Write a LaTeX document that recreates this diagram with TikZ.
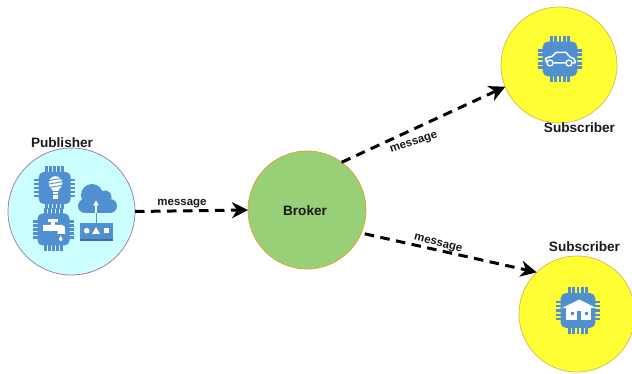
\documentclass[tikz,border=0pt]{standalone}
\usepackage{fontspec}
\setmainfont{Liberation Sans}
\usetikzlibrary{arrows.meta}
\definecolor{chipblue}{HTML}{5090D0}
\definecolor{pubfill}{HTML}{CCFFFF}
\definecolor{pubedge}{HTML}{9673A6}
\definecolor{subfill}{HTML}{FFFF33}
\definecolor{subedge}{HTML}{D6B656}
\definecolor{brokerfill}{HTML}{97D077}
\definecolor{brokeredge}{HTML}{E0A030}
\tikzset{
  x=1pt,y=-1pt,
  party/.style={circle,draw,line width=0.7pt,inner sep=0pt,outer sep=0pt},
  pubnode/.style={party,fill=pubfill,draw=pubedge,minimum size=127pt},
  subnode/.style={party,fill=subfill,draw=subedge,minimum size=116pt},
  brokernode/.style={party,fill=brokerfill,draw=brokeredge,minimum size=118pt},
  title/.style={font=\fontsize{13.6}{15}\selectfont\bfseries,text=black!90,inner sep=0pt},
  msg/.style={font=\fontsize{11.5}{13}\selectfont\bfseries,text=black!90,inner sep=0pt},
  flow/.style={line width=3pt,draw=black,dash pattern=on 9.5pt off 6.5pt,
    -{Stealth[length=16pt,width=16pt,inset=5pt]}},
  glyph/.style={fill=white,draw=none},
  pics/chip/.style={code={
    \foreach \d in {-8,-4,0,4,8}{
      \draw[chipblue,line width=2.5pt] (-20.5,\d) -- (20.5,\d);
      \draw[chipblue,line width=2.5pt] (\d,-21.5) -- (\d,21.5);
    }
    \fill[chipblue,rounded corners=5pt] (-16,-16) rectangle (16,16);
  }}
}
\begin{document}
\begin{tikzpicture}
\useasboundingbox (0,0) rectangle (632,374);
\clip (0,0) rectangle (632,374);
% circles
\node[pubnode] (pub) at (71.5,211.5) {};
\node[brokernode] (brk) at (307,210) {};
\node[subnode] (suba) at (559,65) {};
\node[subnode] (subb) at (577,314) {};
% connectors
\draw[flow] (pub.0) -- (brk.180);
\draw[flow] (brk.54) -- (suba.202);
\draw[flow,shorten <=3.5pt] (brk.-23) -- (subb.134);
% labels
\node[title] (tpub) at (62,143) {Publisher};
\node[title] (tbrk) at (305,211) {Broker};
\node[title] (tsuba) at (579.5,128) {Subscriber};
\node[title] (tsubb) at (584.5,247) {Subscriber};
\node[msg] (m1) at (182,204) {message};
\node[msg,rotate=18] (m2) at (414,143) {message};
\node[msg,rotate=-15] (m3) at (438,244) {message};
% publisher chips
\pic at (54.7,188) {chip};
\pic at (53.5,229.5) {chip};
% bulb
\fill[glyph] (55.5,183) circle[radius=6.8];
\fill[glyph] (49.5,186) -- (61.5,186) -- (58,191) -- (53,191) -- cycle;
\foreach \yy in {179.5,183,186.5}
  \draw[chipblue,line width=0.9pt] (47,\yy+1.3) -- (65,\yy-1.7);
\fill[glyph] (53,192) rectangle (58,199);
\draw[chipblue,line width=0.6pt] (52,194.5) -- (59,194.5);
% faucet
\fill[glyph] (43,225) -- (62,225) .. controls (64,225) and (65,226.5) .. (65,228) -- (65,234) -- (57.5,234) -- (57.5,231) -- (43,231) -- cycle;
\fill[glyph] (51,221) rectangle (54.5,225);
\fill[glyph] (48,219) rectangle (58,222);
\fill[glyph] (60.7,235.5) -- (62.5,239.5) arc[start angle=0,end angle=180,radius=1.8] -- cycle;
% cloud
\fill[chipblue] (92,195) circle[radius=11];
\fill[chipblue] (105,197) circle[radius=6.5];
\fill[chipblue] (85,206) circle[radius=7];
\fill[chipblue] (110,206) circle[radius=7];
\fill[chipblue] (85,198) rectangle (110,213);
\draw[chipblue,line width=1pt] (96,212) -- (96,224);
\fill[chipblue] (80,223) rectangle (113,241);
\fill[chipblue!75!black] (80,239) rectangle (113,241);
\draw[white,line width=1.4pt] (96,213) -- (96,204);
\fill[white] (96,200.5) -- (99,205.5) -- (93,205.5) -- cycle;
\fill[glyph] (86.7,230.7) circle[radius=2.8];
\fill[glyph] (96,227) -- (100,234) -- (92,234) -- cycle;
\fill[glyph] (104,228) rectangle (108.5,233.5);
% car chip
\pic[scale=1.08] at (560,59) {chip};
\draw[white,line width=1.5pt,line join=round] (546.5,62.5) -- (545.5,58.5) .. controls (548,57) and (550,57) .. (552,56.5)
  -- (556,52.5) -- (566,52.5) -- (570,57) .. controls (573,57.5) and (575,59) .. (575,61) -- (575,63) -- (572.5,63)
  (565.5,63) -- (553.5,63);
\draw[white,line width=1.3pt] (550,63) circle[radius=3];
\draw[white,line width=1.3pt] (569,63) circle[radius=3];
% home chip
\pic[scale=1.08] at (578,310.5) {chip};
\fill[glyph] (562,308) -- (579.5,299.5) -- (596,308) -- cycle;
\fill[glyph] (566,308) rectangle (591,319.5);
\fill[chipblue] (571,312) rectangle (574,315);
\fill[chipblue] (585,312) rectangle (588,315);
\fill[chipblue] (577,311) rectangle (581,319.5);
\end{tikzpicture}
\end{document}
